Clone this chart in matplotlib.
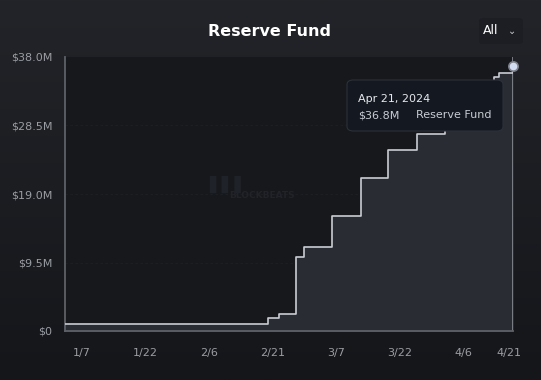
import matplotlib.pyplot as plt
import numpy as np
from matplotlib.patches import FancyBboxPatch
from matplotlib.colors import LinearSegmentedColormap

# reserve fund, step data (day offset from Jan 3 2024, value in $M)
days = [0, 48, 50.5, 54.6, 56.4, 63, 70, 76.3, 83.2, 89.8, 95.7, 101.3, 102.4, 105.8]
values = [0.97, 1.8, 2.36, 10.26, 11.65, 15.95, 21.2, 25.1, 27.3, 29.8, 32.5, 35.2, 35.8, 36.8]

tick_days = [4, 19, 34, 49, 64, 79, 94, 104.9]
tick_labels = ['1/7', '1/22', '2/6', '2/21', '3/7', '3/22', '4/6', '4/21']
y_ticks = [0, 9.5, 19.0, 28.5, 38.0]
y_labels = ['$0', '$9.5M', '$19.0M', '$28.5M', '$38.0M']

W, H = 541, 380
fig = plt.figure(figsize=(W / 100, H / 100), dpi=100)

# background gradient
bg = fig.add_axes([0, 0, 1, 1])
grad = np.linspace(0, 1, 256).reshape(-1, 1)
cmap = LinearSegmentedColormap.from_list('bg', ['#222429', '#15161a'])
bg.imshow(grad, aspect='auto', cmap=cmap, extent=[0, 1, 0, 1])
bg.axis('off')

ax = fig.add_axes([65 / W, (H - 331) / H, (513 - 65) / W, (331 - 57) / H])
ax.set_facecolor('#16181c')
ax.set_xlim(0, days[-1])
ax.set_ylim(0, 38)

ax.fill_between(days, values, step='post', color='#2a2c33', zorder=1)
ax.step(days, values, where='post', color='#c9ccd3', lw=1.2, zorder=3)

for y in y_ticks[1:-1]:
    ax.axhline(y, color='#1e2025', lw=0.6, ls=(0, (3, 3)), zorder=0)

# crosshair and point
ax.axvline(days[-1], color='#8a8d93', lw=1.2, zorder=2)
ax.scatter([days[-1]], [values[-1]], s=45, color='#d2dcf2', edgecolor='#7d8088',
           lw=1.2, zorder=5, clip_on=False)

ax.set_xticks(tick_days)
ax.set_xticklabels(tick_labels)
ax.set_yticks(y_ticks)
ax.set_yticklabels(y_labels)
ax.tick_params(length=0, colors='#9a9da3', labelsize=8)
ax.tick_params(axis='x', pad=12)
ax.tick_params(axis='y', pad=9)
for s in ['top', 'right']:
    ax.spines[s].set_visible(False)
for s in ['left', 'bottom']:
    ax.spines[s].set_color('#5e6167')
    ax.spines[s].set_linewidth(1.3)

# watermark
fig.text(262 / W, (H - 195) / H, 'BLOCKBEATS', color='#212329', fontsize=6.5,
         ha='center', va='center', fontweight='bold')
fig.text(228 / W, (H - 184) / H, '▌▌▌', color='#1f2228', fontsize=12,
         ha='center', va='center')

# title
fig.text(270 / W, (H - 31) / H, 'Reserve Fund', color='white', fontsize=11.5,
         ha='center', va='center', fontweight='bold')

# "All" dropdown
btn = FancyBboxPatch((479 / W, (H - 44) / H), 44 / W, 26 / H,
                     boxstyle='round,pad=0,rounding_size=0.008',
                     transform=fig.transFigure, facecolor='#1c1e23', edgecolor='none')
fig.patches.append(btn)
fig.text(491 / W, (H - 31) / H, 'All', color='white', fontsize=9, va='center', ha='center')
fig.text(512 / W, (H - 31) / H, '⌄', color='#c8cbd0', fontsize=7, va='center', ha='center')

# tooltip
tip = FancyBboxPatch((347 / W, (H - 131) / H), 156 / W, 51 / H,
                     boxstyle='round,pad=0,rounding_size=0.012',
                     transform=fig.transFigure, facecolor='#141821',
                     edgecolor='#2c3038', lw=0.8, zorder=10)
fig.patches.append(tip)
fig.text(358 / W, (H - 99) / H, 'Apr 21, 2024', color='#e6e8ec', fontsize=8, va='center', zorder=11)
fig.text(358 / W, (H - 115) / H, '$36.8M', color='#c8ccd3', fontsize=8, va='center', zorder=11)
fig.text(416 / W, (H - 115) / H, 'Reserve Fund', color='#c8ccd3', fontsize=8, va='center', zorder=11)

fig.savefig('out.png', dpi=100, facecolor='#1b1d21')
